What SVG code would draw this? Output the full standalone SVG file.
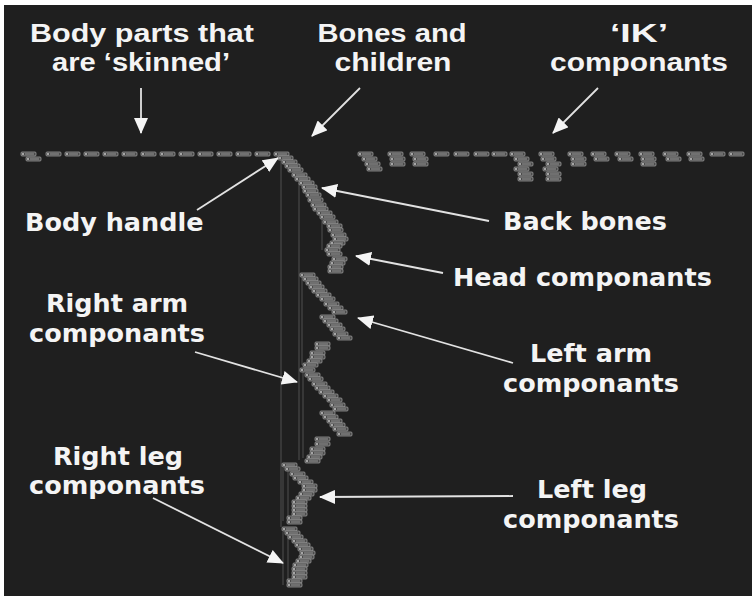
<svg xmlns="http://www.w3.org/2000/svg" xmlns:xlink="http://www.w3.org/1999/xlink" width="752" height="598" viewBox="0 0 752 598">
<style>
.top{font-family:"Liberation Sans",Arial,sans-serif;font-weight:bold;font-size:26px;fill:#f4f4f4;text-anchor:middle}
.lbl{font-family:"DejaVu Sans",Verdana,sans-serif;font-weight:bold;font-size:25.5px;fill:#f4f4f4}
.mid{text-anchor:middle}
.arr{stroke:#e2e2e2;stroke-width:1.8;fill:none;marker-end:url(#ah)}
.wire{stroke:#5e5e5e;stroke-width:0.8;fill:none}
</style>
<defs>
<marker id="ah" markerUnits="userSpaceOnUse" markerWidth="16" markerHeight="14" refX="15" refY="7" orient="auto">
<path d="M0,0 L16,7 L0,14 z" fill="#f4f4f4"/>
</marker>
<g id="b"><rect x="0" y="0" width="15" height="4" rx="1" fill="#4a4a4a" stroke="#a8a8a8" stroke-width="0.7"/><rect x="4" y="1.4" width="9" height="1.2" fill="#8a8a8a"/><rect x="1.2" y="1.2" width="1.6" height="1.6" fill="#d8d8d8"/></g>
</defs>
<rect x="0" y="0" width="752" height="598" fill="#ffffff"/>
<rect x="4" y="5" width="748" height="591" fill="#1f1f1f"/>

<g id="hierarchy">
<g id="wires">
<path class="wire" d="M281,157V527 M283,468V521 M283,532V585 M299,183V460 M302,275V365 M303,370V458 M322,218V250 M288,470V518 M288,535V582"/>
</g>
<g id="skinned-parts">
<use href="#b" x="21" y="152"/><use href="#b" x="46" y="152"/><use href="#b" x="65" y="152"/><use href="#b" x="84" y="152"/><use href="#b" x="103" y="152"/><use href="#b" x="122" y="152"/><use href="#b" x="141" y="152"/><use href="#b" x="160" y="152"/><use href="#b" x="179" y="152"/><use href="#b" x="198" y="152"/><use href="#b" x="217" y="152"/><use href="#b" x="236" y="152"/><use href="#b" x="255" y="152"/><use href="#b" x="26" y="157"/>
</g>
<g id="body-handle"><use href="#b" x="274" y="152"/></g>
<g id="bones">
<use href="#b" x="278" y="156"/><use href="#b" x="282" y="160"/><use href="#b" x="285" y="164"/><use href="#b" x="288" y="168"/><use href="#b" x="292" y="173"/><use href="#b" x="295" y="177"/><use href="#b" x="299" y="181"/><use href="#b" x="302" y="185"/><use href="#b" x="303" y="189"/><use href="#b" x="306" y="193"/><use href="#b" x="308" y="198"/><use href="#b" x="311" y="203"/><use href="#b" x="313" y="207"/><use href="#b" x="317" y="211"/><use href="#b" x="320" y="215"/><use href="#b" x="323" y="220"/><use href="#b" x="327" y="224"/><use href="#b" x="328" y="228"/><use href="#b" x="331" y="233"/><use href="#b" x="333" y="237"/><use href="#b" x="330" y="241"/><use href="#b" x="327" y="244"/><use href="#b" x="325" y="248"/><use href="#b" x="327" y="252"/><use href="#b" x="332" y="257"/><use href="#b" x="330" y="261"/><use href="#b" x="328" y="265"/><use href="#b" x="328" y="269"/>
</g>
<g id="left-arm">
<use href="#b" x="300" y="273"/><use href="#b" x="303" y="277"/><use href="#b" x="306" y="281"/><use href="#b" x="309" y="285"/><use href="#b" x="312" y="289"/><use href="#b" x="316" y="293"/><use href="#b" x="320" y="297"/><use href="#b" x="324" y="302"/><use href="#b" x="328" y="306"/><use href="#b" x="332" y="310"/><use href="#b" x="320" y="315"/><use href="#b" x="323" y="319"/><use href="#b" x="327" y="323"/><use href="#b" x="330" y="327"/><use href="#b" x="333" y="332"/><use href="#b" x="337" y="336"/><use href="#b" x="315" y="342"/><use href="#b" x="315" y="346"/><use href="#b" x="310" y="351"/><use href="#b" x="310" y="355"/><use href="#b" x="307" y="359"/><use href="#b" x="303" y="363"/>
</g>
<g id="right-arm">
<use href="#b" x="300" y="368"/><use href="#b" x="305" y="373"/><use href="#b" x="308" y="377"/><use href="#b" x="312" y="382"/><use href="#b" x="315" y="386"/><use href="#b" x="319" y="390"/><use href="#b" x="323" y="394"/><use href="#b" x="327" y="398"/><use href="#b" x="330" y="403"/><use href="#b" x="333" y="407"/><use href="#b" x="320" y="411"/><use href="#b" x="323" y="415"/><use href="#b" x="327" y="419"/><use href="#b" x="330" y="423"/><use href="#b" x="333" y="427"/><use href="#b" x="337" y="432"/><use href="#b" x="315" y="437"/><use href="#b" x="315" y="442"/><use href="#b" x="310" y="447"/><use href="#b" x="310" y="451"/><use href="#b" x="307" y="455"/><use href="#b" x="305" y="459"/>
</g>
<g id="left-leg">
<use href="#b" x="282" y="463"/><use href="#b" x="285" y="467"/><use href="#b" x="290" y="472"/><use href="#b" x="293" y="476"/><use href="#b" x="298" y="480"/><use href="#b" x="302" y="484"/><use href="#b" x="302" y="488"/><use href="#b" x="299" y="492"/><use href="#b" x="296" y="496"/><use href="#b" x="292" y="500"/><use href="#b" x="292" y="504"/><use href="#b" x="292" y="508"/><use href="#b" x="292" y="512"/><use href="#b" x="287" y="516"/><use href="#b" x="287" y="520"/>
</g>
<g id="right-leg">
<use href="#b" x="282" y="527"/><use href="#b" x="285" y="531"/><use href="#b" x="288" y="535"/><use href="#b" x="292" y="539"/><use href="#b" x="295" y="543"/><use href="#b" x="298" y="547"/><use href="#b" x="300" y="551"/><use href="#b" x="299" y="555"/><use href="#b" x="296" y="559"/><use href="#b" x="293" y="563"/><use href="#b" x="292" y="567"/><use href="#b" x="292" y="571"/><use href="#b" x="292" y="575"/><use href="#b" x="287" y="579"/><use href="#b" x="287" y="583"/>
</g>
<g id="ik">
<use href="#b" x="358" y="152"/><use href="#b" x="388" y="152"/><use href="#b" x="410" y="152"/><use href="#b" x="434" y="152"/><use href="#b" x="454" y="152"/><use href="#b" x="474" y="152"/><use href="#b" x="492" y="152"/><use href="#b" x="510" y="152"/><use href="#b" x="539" y="152"/><use href="#b" x="568" y="152"/><use href="#b" x="591" y="152"/><use href="#b" x="615" y="152"/><use href="#b" x="639" y="152"/><use href="#b" x="663" y="152"/><use href="#b" x="687" y="152"/><use href="#b" x="710" y="152"/><use href="#b" x="729" y="152"/>
<use href="#b" x="362" y="157"/><use href="#b" x="390" y="157"/><use href="#b" x="413" y="157"/><use href="#b" x="514" y="157"/><use href="#b" x="541" y="157"/><use href="#b" x="571" y="157"/><use href="#b" x="594" y="157"/><use href="#b" x="618" y="157"/><use href="#b" x="641" y="157"/><use href="#b" x="666" y="157"/><use href="#b" x="689" y="157"/>
<use href="#b" x="365" y="162"/><use href="#b" x="390" y="162"/><use href="#b" x="413" y="162"/><use href="#b" x="518" y="162"/><use href="#b" x="546" y="162"/><use href="#b" x="571" y="162"/><use href="#b" x="641" y="162"/>
<use href="#b" x="367" y="167"/><use href="#b" x="514" y="167"/><use href="#b" x="543" y="167"/>
<use href="#b" x="518" y="172"/><use href="#b" x="546" y="172"/>
<use href="#b" x="518" y="177"/><use href="#b" x="546" y="177"/>
</g>
</g>

<g id="connectors">
<path class="arr" d="M141,88 L141,133"/>
<path class="arr" d="M360,88 L312,136"/>
<path class="arr" d="M598,88 L553,133"/>
<path class="arr" d="M197,210 L278,158"/>
<path class="arr" d="M489,221 L322,188"/>
<path class="arr" d="M443,273 L356,256"/>
<path class="arr" d="M195,352 L297,382"/>
<path class="arr" d="M513,363 L358,318"/>
<path class="arr" d="M153,498 L283,563"/>
<path class="arr" d="M513,496 L320,497"/>
</g>

<g id="label-skinned"><text class="top" x="142" y="42" textLength="224" lengthAdjust="spacingAndGlyphs">Body parts that</text><text class="top" x="141" y="71" textLength="178" lengthAdjust="spacingAndGlyphs">are  ‘skinned’</text></g>
<g id="label-bones"><text class="top" x="392" y="42" textLength="149" lengthAdjust="spacingAndGlyphs">Bones and</text><text class="top" x="393" y="71" textLength="117" lengthAdjust="spacingAndGlyphs">children</text></g>
<g id="label-ik"><text class="top" x="639" y="42" textLength="58" lengthAdjust="spacingAndGlyphs">‘IK’</text><text class="top" x="639" y="71" textLength="178" lengthAdjust="spacingAndGlyphs">componants</text></g>
<g id="label-body-handle"><text class="lbl" x="25" y="231">Body handle</text></g>
<g id="label-back-bones"><text class="lbl" x="503" y="230">Back bones</text></g>
<g id="label-head"><text class="lbl" x="453" y="286">Head componants</text></g>
<g id="label-right-arm"><text class="lbl mid" x="117" y="312">Right arm</text><text class="lbl mid" x="117" y="342">componants</text></g>
<g id="label-left-arm"><text class="lbl mid" x="591" y="362">Left arm</text><text class="lbl mid" x="591" y="392">componants</text></g>
<g id="label-right-leg"><text class="lbl mid" x="118" y="465">Right leg</text><text class="lbl mid" x="117" y="494">componants</text></g>
<g id="label-left-leg"><text class="lbl mid" x="592" y="498">Left leg</text><text class="lbl mid" x="591" y="528">componants</text></g>
</svg>
